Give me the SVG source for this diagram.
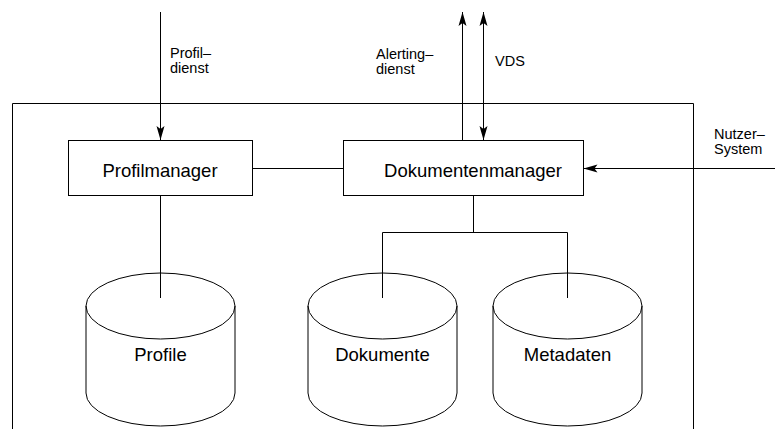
<svg xmlns="http://www.w3.org/2000/svg" width="775" height="429" viewBox="0 0 775 429">
<style>
.ln{fill:none;stroke:#000;stroke-width:1}
.bx{fill:#fff;stroke:#000;stroke-width:1}
.t{font-family:"Liberation Sans",Arial,sans-serif;fill:#000}
.big{font-size:18.5px}
.sm{font-size:14.5px}
</style>
<defs>
<marker id="ah" markerUnits="userSpaceOnUse" viewBox="-15 -5 16 10" refX="0" refY="0" markerWidth="16" markerHeight="10" orient="auto-start-reverse">
<path d="M0,0 L-14,-4 L-11,0 L-14,4 Z" fill="#000"/>
</marker>
</defs>
<g id="frame"><path class="ln" d="M12.5,429 V103.5 H693.5 V429"/></g>
<g id="connectors">
<line class="ln" x1="160.5" y1="12" x2="160.5" y2="140" marker-end="url(#ah)"/>
<line class="ln" x1="462.5" y1="140" x2="462.5" y2="12" marker-end="url(#ah)"/>
<line class="ln" x1="483.5" y1="12" x2="483.5" y2="140" marker-start="url(#ah)" marker-end="url(#ah)"/>
<line class="ln" x1="775" y1="168.5" x2="583.5" y2="168.5" marker-end="url(#ah)"/>
<line class="ln" x1="252" y1="168.5" x2="343" y2="168.5"/>
<line class="ln" x1="160.5" y1="195" x2="160.5" y2="298"/>
<path class="ln" d="M473.5,195 V232.5 M382.5,298 V232.5 H567.5 V298"/>
</g>
<g id="profilmanager">
<rect class="bx" x="68.5" y="140.5" width="184" height="55"/>
<text class="t big" x="160" y="177" text-anchor="middle">Profilmanager</text>
</g>
<g id="dokumentenmanager">
<rect class="bx" x="343.5" y="140.5" width="240" height="55"/>
<text class="t big" x="473" y="177" text-anchor="middle">Dokumentenmanager</text>
</g>
<g id="profile">
<path class="bx" d="M86,306 V393 A74.5,33 0 0 0 235,393 V306"/>
<ellipse class="ln" cx="160.5" cy="306" rx="74.5" ry="33"/>
<line class="ln" x1="160.5" y1="272" x2="160.5" y2="298"/>
<text class="t big" x="160.5" y="361" text-anchor="middle">Profile</text>
</g>
<g id="dokumente">
<path class="bx" d="M308,306 V393 A74.5,33 0 0 0 457,393 V306"/>
<ellipse class="ln" cx="382.5" cy="306" rx="74.5" ry="33"/>
<line class="ln" x1="382.5" y1="272" x2="382.5" y2="298"/>
<text class="t big" x="382.5" y="361" text-anchor="middle">Dokumente</text>
</g>
<g id="metadaten">
<path class="bx" d="M493,306 V393 A74.5,33 0 0 0 642,393 V306"/>
<ellipse class="ln" cx="567.5" cy="306" rx="74.5" ry="33"/>
<line class="ln" x1="567.5" y1="272" x2="567.5" y2="298"/>
<text class="t big" x="567.5" y="361" text-anchor="middle">Metadaten</text>
</g>
<g id="labels">
<text class="t sm" x="170" y="58">Profil–<tspan x="170" dy="15">dienst</tspan></text>
<text class="t sm" x="376" y="59">Alerting–<tspan x="376" dy="15">dienst</tspan></text>
<text class="t sm" x="495" y="66">VDS</text>
<text class="t sm" x="714" y="139">Nutzer–<tspan x="714" dy="15">System</tspan></text>
</g>
</svg>
